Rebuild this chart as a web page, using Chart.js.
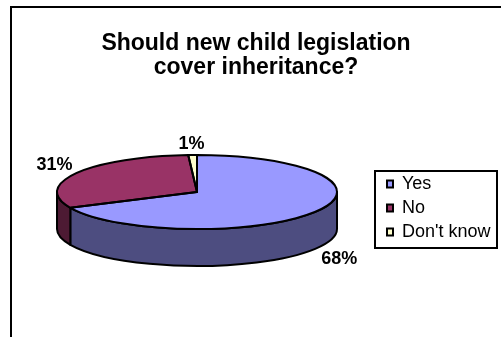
<!DOCTYPE html>
<html>
<head>
<meta charset="utf-8">
<style>
    html, body { margin: 0; padding: 0; background: #fff; }
    canvas { display: block; }
</style>
<script src="https://cdn.jsdelivr.net/npm/chart.js@4/dist/chart.umd.js"></script>
</head>
<body>
<canvas id="myChart" width="501" height="337"></canvas>
<script>
// Chart data
const categories = ['Yes', 'No', "Don't know"];
const values = [68, 31, 1];
const topColors = ['#9999FF', '#993366', '#FFFFCC'];
const sideColors = ['#4D4D80', '#4D1A33', '#808066'];
const titleLines = ['Should new child legislation', 'cover inheritance?'];

// Look of the tilted pie
const pieX = 197, pieY = 192, pieRadius = 140;
const tilt = 37 / 140; // vertical squash of the circle
const depth = 37;
const labelFont = 'bold 18px "Liberation Sans"';
const labelShift = [[24, 47], [-22, -8], [-1, -11]]; // from rim point of each slice
const legendBox = { left: 375, top: 171, right: 497, bottom: 248 };

function arcGeometry(arc) {
    return arc.getProps(['x', 'y', 'startAngle', 'endAngle', 'outerRadius'], true);
}

const pie3d = {
    id: 'pie3d',
    beforeDraw(chart) {
        const ctx = chart.ctx;
        ctx.save();
        ctx.fillStyle = '#fff';
        ctx.fillRect(0, 0, chart.width, chart.height);
        // outer frame, only left and top show in the picture
        ctx.fillStyle = '#000';
        ctx.fillRect(10, 6, chart.width - 10, 2);
        ctx.fillRect(10, 6, 2, chart.height - 6);
        ctx.restore();
    },
    afterLayout(chart) {
        // move the legend beside the pie; bottom stays loose so it keeps one column
        const legend = chart.legend;
        legend.left = 381;
        legend.right = 497;
        legend.top = 169;
        legend.bottom = 300;
    },
    beforeDatasetsDraw(chart) {
        const ctx = chart.ctx;
        const arcs = chart.getDatasetMeta(0).data;

        // side wall, only the front half of the rim is visible
        arcs.forEach((arc, i) => {
            const p = arcGeometry(arc);
            const a = Math.max(p.startAngle, 0);
            const b = Math.min(p.endAngle, Math.PI);
            if (a >= b) return;
            ctx.save();
            ctx.beginPath();
            ctx.ellipse(pieX, pieY, p.outerRadius, p.outerRadius * tilt, 0, a, b);
            ctx.ellipse(pieX, pieY + depth, p.outerRadius, p.outerRadius * tilt, 0, b, a, true);
            ctx.closePath();
            ctx.fillStyle = sideColors[i];
            ctx.fill();
            ctx.lineWidth = 2;
            ctx.lineJoin = 'round';
            ctx.strokeStyle = '#000';
            ctx.stroke();
            ctx.restore();
        });

        // squash the library's round pie into the tilted top face
        const first = arcGeometry(arcs[0]);
        ctx.save();
        ctx.translate(pieX, pieY);
        ctx.scale(1, tilt);
        ctx.translate(-first.x, -first.y);
    },
    afterDatasetsDraw(chart) {
        const ctx = chart.ctx;
        ctx.restore();

        // outlines go here so the squash does not thin them
        chart.getDatasetMeta(0).data.forEach(arc => {
            const p = arcGeometry(arc);
            ctx.save();
            ctx.beginPath();
            ctx.moveTo(pieX, pieY);
            ctx.ellipse(pieX, pieY, p.outerRadius, p.outerRadius * tilt, 0, p.startAngle, p.endAngle);
            ctx.closePath();
            ctx.lineWidth = 2;
            ctx.lineJoin = 'round';
            ctx.strokeStyle = '#000';
            ctx.stroke();
            ctx.restore();
        });
    },
    afterDraw(chart) {
        const ctx = chart.ctx;
        ctx.save();

        // legend border
        ctx.lineWidth = 2;
        ctx.strokeStyle = '#000';
        ctx.strokeRect(legendBox.left, legendBox.top, legendBox.right - legendBox.left, legendBox.bottom - legendBox.top);

        // percent labels
        ctx.font = labelFont;
        ctx.fillStyle = '#000';
        ctx.textAlign = 'center';
        ctx.textBaseline = 'middle';
        chart.getDatasetMeta(0).data.forEach((arc, i) => {
            const p = arcGeometry(arc);
            const mid = (p.startAngle + p.endAngle) / 2;
            const x = pieX + Math.cos(mid) * p.outerRadius;
            const y = pieY + Math.sin(mid) * p.outerRadius * tilt;
            ctx.fillText(values[i] + '%', x + labelShift[i][0], y + labelShift[i][1]);
        });
        ctx.restore();
    }
};

const ctx = document.getElementById('myChart').getContext('2d');
const myChart = new Chart(ctx, {
    type: 'pie',
    data: {
        labels: categories,
        datasets: [{
            data: values,
            backgroundColor: topColors,
            borderWidth: 0,
            radius: pieRadius,
            clip: false
        }]
    },
    plugins: [pie3d],
    options: {
        responsive: false,
        animation: false,
        layout: { padding: { left: 11 } },
        plugins: {
            tooltip: { enabled: false },
            title: {
                display: true,
                text: titleLines,
                color: '#000',
                font: { family: '"Liberation Sans"', size: 23, weight: 'bold', lineHeight: 1.04 },
                padding: { top: 32, bottom: 10 }
            },
            legend: {
                position: 'right',
                align: 'start',
                labels: {
                    color: '#000',
                    font: { family: '"Liberation Sans"', size: 18 },
                    boxWidth: 6,
                    boxHeight: 7,
                    padding: 6,
                    generateLabels: chart => chart.data.labels.map((label, i) => ({
                        text: label,
                        fillStyle: topColors[i],
                        strokeStyle: '#000',
                        lineWidth: 2,
                        fontColor: '#000',
                        index: i
                    }))
                }
            }
        }
    }
});
</script>
</body>
</html>
